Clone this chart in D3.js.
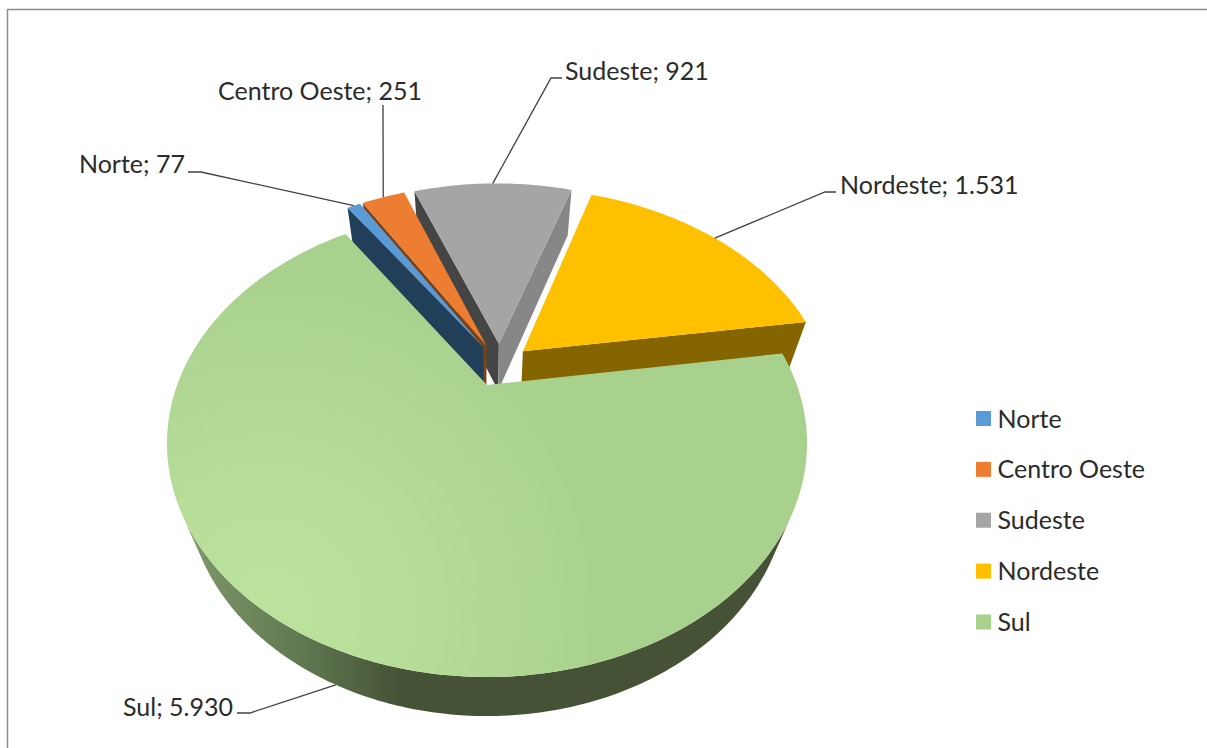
<!DOCTYPE html>
<html>
<head>
<meta charset="utf-8">
<script src="https://cdn.jsdelivr.net/npm/d3@7"></script>
<style>
  html, body { margin: 0; padding: 0; background: #fff; }
  svg { display: block; }
  text { font-family: Lato, "Open Sans", sans-serif; fill: #2b2b2b; }
</style>
</head>
<body>
<svg id="chart" width="1207" height="748"></svg>
<script>
// Regional totals
const regions = ["Norte", "Centro Oeste", "Sudeste", "Nordeste", "Sul"];
const totals = [77, 251, 921, 1531, 5930];
const valueLabels = ["77", "251", "921", "1.531", "5.930"];

// Slice colours: top surface, cut face on the start side, cut face on the end side, outer wall
const topColors = ["#5b9bd5", "#ed7d31", "#a5a5a5", "#ffc000", "#a9d18e"];
const startFaceColors = ["#223f59", "#7a4219", "#454545", "#856500", "#465235"];
const endFaceColors = ["#2f5a80", "#7a3d12", "#878787", "#856500", "#465235"];
const wallColors = ["#223f59", "#7a4219", "#6e6e6e", "#856500", "url(#sulWall)"];

// Back-to-front painting order (indexes into regions)
const paintOrder = [2, 3, 1, 0, 4];

// Leader lines: label anchor, elbow, and which rim the line lands on
const leaderElbows = [
  [[188, 172], [201, 172]],
  [[383, 105], [383, 112]],
  [[562, 78], [551, 78]],
  [[836, 192], [825, 192]],
  [[237, 713], [250, 713]]
];
const leaderDepth = [0, 0, 0, 0, 1];
const labelAnchors = [[185, 173, "end"], [422, 100, "end"], [565, 80, "start"], [840, 194, "start"], [233, 716, "end"]];

// Perspective camera for the disc
const cam = { cx: 487, F: 1236.5, d: 3.991, k: 3486, h: -488.5, vanishY: 1198, depth: 0.2425 };
const explode = 0.103;
const rotation = 326.5 * Math.PI / 180;

function project(X, Y, Z) {
  const w = cam.d + Y;
  const px = cam.cx + cam.F * X / w;
  const py = cam.h + cam.k / w;
  const s = cam.depth * Z / (w + cam.depth * Z);
  return [px + (cam.cx - px) * s, py + (cam.vanishY - py) * s];
}

const dir = a => [Math.sin(a), Math.cos(a)];

const pie = d3.pie().sort(null).startAngle(rotation).endAngle(rotation + 2 * Math.PI);
const arcs = pie(totals);
const midAngle = a => (a.startAngle + a.endAngle) / 2;

// The largest slice's apex sits at the plane origin; everything else is placed relative to it
const sulDir = dir(midAngle(arcs[4]));
const origin = [-explode * sulDir[0], -explode * sulDir[1]];

const apexOf = a => {
  const m = dir(midAngle(a));
  return [origin[0] + explode * m[0], origin[1] + explode * m[1]];
};
const rimPoint = (a, t) => {
  const ap = apexOf(a), u = dir(t);
  return [ap[0] + u[0], ap[1] + u[1]];
};

const line = d3.line();
const closed = pts => line(pts) + "Z";
const signedArea = pts => d3.polygonArea(pts);

const svg = d3.select("#chart");
const defs = svg.append("defs");

const wallGrad = defs.append("linearGradient")
  .attr("id", "sulWall").attr("gradientUnits", "userSpaceOnUse")
  .attr("x1", 190).attr("y1", 0).attr("x2", 400).attr("y2", 0);
wallGrad.append("stop").attr("offset", 0).attr("stop-color", "#7d9869");
wallGrad.append("stop").attr("offset", 0.55).attr("stop-color", "#5f7750");
wallGrad.append("stop").attr("offset", 1).attr("stop-color", "#465235");

const topGrad = defs.append("radialGradient")
  .attr("id", "sulTop").attr("gradientUnits", "userSpaceOnUse")
  .attr("cx", 270).attr("cy", 610).attr("r", 340);
topGrad.append("stop").attr("offset", 0).attr("stop-color", "#bbe39e");
topGrad.append("stop").attr("offset", 0.4).attr("stop-color", "#b6de99");
topGrad.append("stop").attr("offset", 1).attr("stop-color", "#a9d18e");

// Frame
svg.append("path").attr("d", "M7.5,748V9.5H1207")
  .attr("fill", "none").attr("stroke", "#8c8c8c").attr("stroke-width", 1.5);

const pieLayer = svg.append("g");

paintOrder.forEach(i => {
  const a = arcs[i];
  const ap = apexOf(a);
  const steps = Math.max(8, Math.round((a.endAngle - a.startAngle) * 60));
  const angles = d3.range(steps + 1).map(j => a.startAngle + (a.endAngle - a.startAngle) * j / steps);
  const rim = angles.map(t => rimPoint(a, t));
  const rimTop = rim.map(p => project(p[0], p[1], 0));
  const rimBottom = rim.map(p => project(p[0], p[1], 1));
  const apexTop = project(ap[0], ap[1], 0);
  const apexBottom = project(ap[0], ap[1], 1);

  const g = pieLayer.append("g");

  // Outer wall: only the stretch of rim that faces the viewer
  const facing = d3.range(steps).filter(j =>
    signedArea([rimTop[j], rimTop[j + 1], rimBottom[j + 1], rimBottom[j]]) > 0);
  if (facing.length) {
    const first = d3.min(facing), last = d3.max(facing) + 1;
    const top = rimTop.slice(first, last + 1);
    const bottom = rimBottom.slice(first, last + 1).reverse();
    g.append("path").attr("d", closed(top.concat(bottom))).attr("fill", wallColors[i]);
  }

  // Cut faces, skipping those that turn away from the viewer
  const startFace = [apexTop, rimTop[0], rimBottom[0], apexBottom];
  const endFace = [apexTop, apexBottom, rimBottom[steps], rimTop[steps]];
  if (signedArea(startFace) > 0) {
    g.append("path").attr("d", closed(startFace)).attr("fill", startFaceColors[i]);
  }
  if (signedArea(endFace) > 0) {
    g.append("path").attr("d", closed(endFace)).attr("fill", endFaceColors[i]);
  }

  // Top surface
  g.append("path")
    .attr("d", closed([apexTop].concat(rimTop)))
    .attr("fill", i === 4 ? "url(#sulTop)" : topColors[i]);
});

// Leader lines end on the rim at each slice's mid angle
const leaderLayer = svg.append("g");
arcs.forEach((a, i) => {
  const p = rimPoint(a, midAngle(a));
  const end = project(p[0], p[1], leaderDepth[i]);
  leaderLayer.append("path")
    .attr("d", line(leaderElbows[i].concat([end])))
    .attr("fill", "none").attr("stroke", "#404040").attr("stroke-width", 1.3);
});

// Data labels
const labelLayer = svg.append("g");
regions.forEach((r, i) => {
  const [x, y, anchor] = labelAnchors[i];
  labelLayer.append("text")
    .attr("x", x).attr("y", y)
    .attr("text-anchor", anchor)
    .attr("font-size", 25)
    .text(`${r}; ${valueLabels[i]}`);
});

// Legend
const legendY = d3.scalePoint().domain(regions).range([418.5, 622]);
const legend = svg.append("g");
regions.forEach((r, i) => {
  const y = legendY(r);
  legend.append("rect")
    .attr("x", 976).attr("y", y - 7.5).attr("width", 15).attr("height", 15)
    .attr("fill", topColors[i]);
  legend.append("text")
    .attr("x", 997.5).attr("y", y + 9)
    .attr("font-size", 25)
    .text(r);
});
</script>
</body>
</html>
